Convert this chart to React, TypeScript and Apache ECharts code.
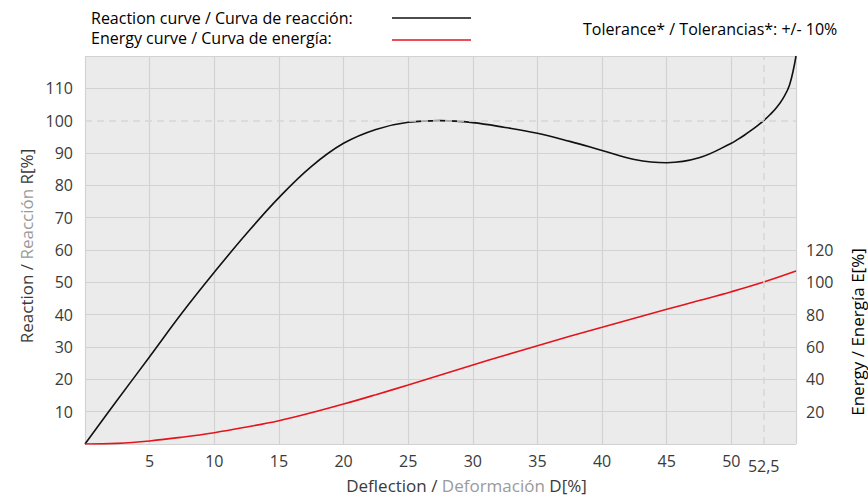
import React, { useEffect, useRef } from "react";
import * as echarts from "echarts";

const reactionX = [0, 2.5, 5, 7.5, 10, 12.5, 15, 17.5, 20, 22.5, 25, 27.5, 30, 32.5, 35, 37.5, 40, 42.5, 45, 47.5, 50, 50.5, 51, 51.5, 52, 52.5, 53, 53.5, 54, 54.5, 55];
const reactionY = [0, 13.6, 27, 40.5, 53.1, 65.1, 76.2, 85.8, 93.0, 97.3, 99.5, 100, 99.4, 97.9, 96.1, 93.6, 90.8, 88.0, 87.0, 88.5, 93.0, 94.2, 95.5, 96.9, 98.4, 100, 101.9, 104.1, 106.9, 111, 120];

const energyX = [0, 2.5, 5, 7.5, 10, 12.5, 15, 17.5, 20, 22.5, 25, 27.5, 30, 32.5, 35, 37.5, 40, 42.5, 45, 47.5, 50, 52.5, 55];
const energyY = [0, 0.4, 1.9, 4.2, 7.0, 10.5, 14.4, 19.3, 24.7, 30.5, 36.5, 42.7, 48.9, 54.9, 60.8, 66.6, 72.2, 77.8, 83.3, 88.7, 94.2, 100.2, 107];

const nominalDeflection = 52.5;
const nominalReaction = 100;

const FONT = "Open Sans";
const DARK = "#3a3a3a";
const GREY = "#9a9a9a";

export default function App() {
  const ref = useRef<HTMLDivElement>(null);
  useEffect(() => {
    if (!ref.current) return;
    const chart = echarts.init(ref.current, null, { renderer: "svg" });
    const leftSplitColors = [] as string[];
    for (let v = 0; v <= 120; v += 10) leftSplitColors.push(v === nominalReaction ? "rgba(0,0,0,0)" : "#d2d2d2");
    const rich = (size: number) => ({
      d: { color: DARK, fontFamily: FONT, fontSize: size, lineHeight: size },
      g: { color: GREY, fontFamily: FONT, fontSize: size, lineHeight: size },
    });
    chart.setOption({
      animation: false,
      textStyle: { fontFamily: FONT },
      grid: {
        left: 85,
        right: 72,
        top: 56,
        bottom: 58,
        show: true,
        backgroundColor: "#ebebeb",
        borderWidth: 0,
        containLabel: false,
        outerBoundsMode: "none",
      },
      xAxis: {
        type: "value",
        min: 0,
        max: 55,
        interval: 5,
        axisLine: { show: false },
        axisTick: { show: false },
        axisLabel: {
          color: DARK,
          fontSize: 16,
          margin: 9,
          formatter: (v: number) => (v === 0 || v === 55 ? "" : String(v)),
        },
        splitLine: { show: true, lineStyle: { color: "#d2d2d2", width: 1.2 } },
        name: "{d|Deflection / }{g|Deformación }{d|D[%]}",
        nameLocation: "middle",
        nameGap: 33,
        nameTextStyle: { rich: rich(17), padding: [0, 0, 0, 52] },
      },
      yAxis: [
        {
          type: "value",
          min: 0,
          max: 120,
          interval: 10,
          axisLine: { show: false },
          axisTick: { show: false },
          axisLabel: {
            color: DARK,
            fontSize: 16,
            margin: 12,
            formatter: (v: number) => (v === 0 || v === 120 ? "" : String(v)),
          },
          splitLine: { show: true, lineStyle: { color: leftSplitColors, width: 1.2 } },
          name: "{d|Reaction / }{g|Reacción }{d|R[%]}",
          nameLocation: "middle",
          nameGap: 44,
          nameTextStyle: { rich: rich(17), padding: [0, 0, 0, 8] },
        },
        {
          type: "value",
          min: 0,
          max: 240,
          interval: 20,
          position: "right",
          axisLine: { show: false },
          axisTick: { show: false },
          splitLine: { show: false },
          axisLabel: {
            color: DARK,
            fontSize: 16,
            margin: 10,
            formatter: (v: number) => (v === 0 || v > 120 ? "" : String(v)),
          },
        },
      ],
      series: [
        {
          type: "line",
          yAxisIndex: 0,
          data: reactionX.map((x, i) => [x, reactionY[i]]),
          smooth: 0.4,
          showSymbol: false,
          lineStyle: { color: "#111111", width: 1.6 },
          markLine: {
            silent: true,
            symbol: "none",
            lineStyle: { color: "#d6d6d6", type: [7, 5], width: 1.5 },
            label: { show: false },
            data: [
              { yAxis: nominalReaction },
              {
                xAxis: nominalDeflection,
                label: {
                  show: true,
                  position: "start",
                  distance: 14,
                  formatter: "52,5",
                  color: DARK,
                  fontSize: 16,
                  fontFamily: FONT,
                },
              },
            ],
          },
        },
        {
          type: "line",
          yAxisIndex: 1,
          data: energyX.map((x, i) => [x, energyY[i]]),
          smooth: 0.4,
          showSymbol: false,
          lineStyle: { color: "#e4141c", width: 1.6 },
        },
      ],
      graphic: [
        {
          type: "text",
          x: 91,
          y: 17.5,
          style: { text: "{d|Reaction curve / }{g|Curva de reacción:}", rich: rich(16), verticalAlign: "middle" },
        },
        {
          type: "text",
          x: 91,
          y: 37.5,
          style: { text: "{d|Energy curve / }{g|Curva de energía:}", rich: rich(16), verticalAlign: "middle" },
        },
        {
          type: "text",
          x: 583,
          y: 29,
          style: { text: "{d|Tolerance* / }{g|Tolerancias*:}{d| +/- 10%}", rich: rich(16), verticalAlign: "middle" },
        },
        {
          type: "text",
          x: 857,
          y: 332,
          rotation: Math.PI / 2,
          style: {
            text: "{d|Energy / }{g|Energía }{d|E[%]}",
            rich: rich(17),
            align: "center",
            verticalAlign: "middle",
          },
        },
        {
          type: "line",
          shape: { x1: 392, y1: 18, x2: 471, y2: 18 },
          style: { stroke: "#111111", lineWidth: 1.5 },
        },
        {
          type: "line",
          shape: { x1: 392, y1: 40, x2: 471, y2: 40 },
          style: { stroke: "#e4141c", lineWidth: 1.5 },
        },
      ],
    });
    return () => chart.dispose();
  }, []);
  return <div ref={ref} style={{ position: "absolute", left: 0, top: 0, width: 868, height: 502 }} />;
}
